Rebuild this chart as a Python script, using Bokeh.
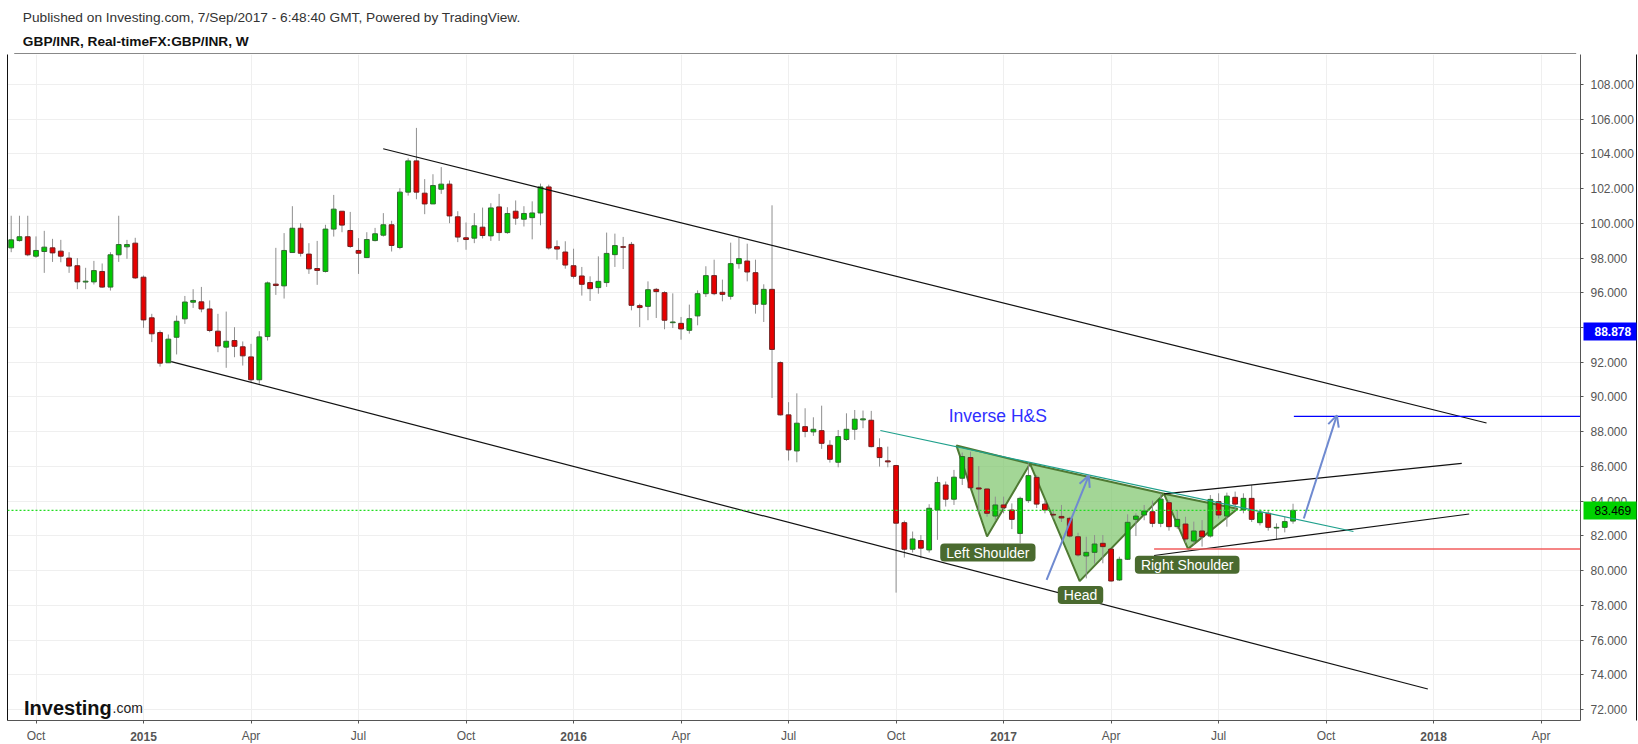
import numpy as np
import pandas as pd
from bokeh.plotting import figure
from bokeh.layouts import column
from bokeh.models import (FixedTicker, PrintfTickFormatter, Label, Span, LinearAxis,
                          Arrow, OpenHead, ColumnDataSource, Range1d)
from bokeh.core.properties import value
from bokeh.embed import file_html
from bokeh.resources import INLINE

FONT = "Liberation Sans"

# ---------------- data (weekly GBP/INR candles) ----------------
start_date = "2014-09-15"

opens = [
    98.59, 99.01, 99.23, 98.11, 98.38, 98.59, 98.40, 98.00, 97.56, 96.62,
    96.63, 97.23, 96.33, 98.19, 98.65, 98.86, 96.90, 94.56, 93.71, 91.97,
    93.44, 94.50, 95.46, 95.48, 95.07, 93.79, 92.87, 93.25, 92.89, 92.31,
    90.99, 93.48, 96.50, 96.40, 98.32, 99.72, 98.23, 97.40, 97.23, 99.67,
    100.70, 99.59, 98.44, 98.03, 99.01, 99.32, 99.92, 98.61, 101.80, 103.60,
    101.74, 101.12, 101.97, 102.26, 100.38, 99.17, 99.15, 99.78, 99.28, 100.95,
    99.47, 100.70, 100.24, 100.33, 100.60, 102.10, 98.66, 98.35, 97.56, 96.97,
    96.59, 96.30, 96.59, 98.20, 98.66, 98.79, 95.26, 95.22, 96.20, 96.01,
    94.28, 94.24, 93.84, 94.67, 95.95, 96.99, 96.03, 95.80, 97.68, 97.83,
    97.16, 95.34, 96.20, 91.98, 88.97, 86.89, 88.29, 87.99, 88.06, 87.22,
    86.24, 87.55, 88.14, 88.68, 88.66, 87.08, 86.32, 86.05, 82.76, 81.23,
    81.73, 81.19, 83.49, 84.93, 84.11, 85.32, 86.51, 84.76, 84.70, 83.14,
    83.78, 83.49, 82.14, 84.03, 85.37, 83.83, 83.24, 83.12, 83.01, 81.95,
    80.84, 81.05, 81.57, 81.24, 79.46, 80.65, 82.95, 83.20, 83.39, 82.72,
    83.91, 82.53, 82.68, 81.70, 82.28, 81.99, 83.97, 83.14, 84.22, 83.49,
    84.16, 82.76, 83.30, 82.45, 82.49, 82.85,
]
highs = [
    100.44, 100.44, 100.44, 99.25, 99.57, 99.11, 99.05, 98.34, 98.00, 97.44,
    97.84, 97.69, 98.34, 100.44, 99.05, 99.17, 97.00, 94.79, 93.83, 93.60,
    94.69, 95.82, 96.21, 96.34, 95.56, 94.79, 94.92, 94.02, 93.20, 93.06,
    93.79, 96.65, 98.59, 99.44, 100.99, 100.01, 98.86, 98.99, 99.92, 101.64,
    100.70, 100.66, 99.15, 99.49, 99.74, 100.59, 100.15, 102.03, 103.75, 105.50,
    102.55, 102.83, 103.24, 102.47, 100.70, 100.05, 100.59, 100.91, 101.16, 101.70,
    100.93, 101.32, 100.99, 101.27, 102.29, 102.23, 99.02, 98.97, 98.54, 97.49,
    96.95, 98.10, 99.47, 99.41, 99.22, 98.93, 95.37, 96.66, 96.28, 96.09,
    95.97, 94.61, 95.32, 96.14, 97.53, 97.91, 96.76, 98.89, 99.16, 98.83,
    97.91, 96.49, 101.04, 92.05, 89.70, 90.21, 89.35, 88.83, 89.50, 87.51,
    88.10, 89.06, 89.25, 89.22, 89.20, 87.62, 87.14, 86.09, 82.88, 82.25,
    82.05, 83.82, 85.41, 85.13, 85.80, 86.80, 86.85, 86.02, 84.72, 84.26,
    84.26, 83.87, 84.26, 86.18, 85.50, 84.06, 83.53, 83.78, 83.10, 82.18,
    81.95, 82.05, 82.05, 81.24, 80.80, 83.24, 83.30, 83.78, 84.03, 84.45,
    84.06, 83.49, 83.10, 82.82, 82.91, 84.35, 84.45, 84.49, 84.55, 84.45,
    84.93, 83.53, 83.49, 82.72, 83.10, 83.85,
]
lows = [
    98.34, 98.95, 98.11, 98.02, 97.15, 97.78, 97.76, 97.15, 96.21, 96.21,
    96.48, 96.29, 96.13, 97.78, 97.96, 96.80, 93.98, 93.16, 91.75, 91.97,
    92.45, 94.21, 95.13, 94.88, 93.73, 92.58, 91.68, 92.29, 91.81, 90.85,
    90.76, 93.25, 95.88, 95.67, 98.30, 98.09, 97.09, 96.46, 97.17, 99.24,
    99.49, 98.59, 97.09, 98.00, 98.96, 99.24, 98.38, 98.51, 101.60, 101.39,
    100.53, 101.12, 101.70, 100.01, 98.92, 98.48, 98.86, 99.13, 98.99, 98.99,
    99.40, 99.92, 99.82, 99.08, 99.89, 98.49, 97.91, 97.39, 96.82, 95.84,
    95.53, 95.95, 96.34, 97.49, 97.37, 94.99, 94.03, 94.42, 94.55, 93.90,
    93.97, 93.30, 93.65, 94.13, 95.76, 95.86, 95.51, 95.61, 97.39, 96.66,
    94.80, 94.32, 89.94, 88.93, 86.34, 86.24, 87.68, 87.76, 87.01, 86.22,
    85.95, 87.47, 87.53, 88.20, 87.10, 85.99, 85.95, 78.73, 80.75, 81.04,
    80.71, 81.04, 81.77, 83.69, 83.78, 84.93, 84.75, 83.33, 83.10, 82.90,
    83.30, 82.39, 81.57, 83.90, 83.60, 83.30, 83.00, 82.80, 81.90, 80.80,
    79.55, 80.40, 80.42, 79.36, 79.40, 80.61, 81.99, 82.90, 82.50, 82.50,
    82.30, 82.40, 81.60, 81.50, 81.38, 81.90, 83.00, 82.53, 83.50, 83.30,
    82.80, 82.60, 82.30, 81.80, 82.20, 82.70,
]
closes = [
    99.05, 99.23, 98.19, 98.44, 98.63, 98.30, 98.11, 97.54, 96.63, 96.67,
    97.28, 96.33, 98.19, 98.78, 98.78, 96.86, 94.44, 93.64, 91.95, 93.33,
    94.36, 95.47, 95.56, 95.07, 93.83, 92.94, 93.21, 92.92, 92.37, 90.99,
    93.46, 96.57, 96.42, 98.44, 99.72, 98.28, 97.38, 97.29, 99.67, 100.82,
    99.90, 98.67, 98.28, 99.07, 99.40, 99.92, 98.73, 101.80, 103.60, 101.80,
    101.12, 102.18, 102.26, 100.43, 99.21, 99.07, 99.86, 99.30, 100.89, 99.47,
    100.57, 100.30, 100.57, 100.60, 102.10, 98.58, 98.52, 97.60, 96.95, 96.49,
    96.24, 96.66, 98.27, 98.72, 98.62, 95.28, 95.15, 96.18, 96.07, 94.42,
    94.32, 93.92, 94.51, 95.95, 96.99, 95.95, 95.91, 97.68, 97.97, 97.20,
    95.34, 96.20, 92.74, 88.97, 86.95, 88.49, 88.01, 88.14, 87.33, 86.41,
    87.72, 88.14, 88.72, 88.74, 87.14, 86.51, 86.26, 82.73, 81.23, 81.82,
    81.29, 83.59, 85.07, 84.11, 85.38, 86.57, 84.77, 84.70, 83.30, 83.78,
    83.62, 82.95, 84.16, 85.47, 83.83, 83.49, 83.20, 83.03, 81.99, 80.90,
    81.05, 81.53, 81.38, 79.40, 80.65, 82.78, 83.14, 83.43, 82.72, 84.12,
    82.53, 82.95, 81.82, 82.28, 81.95, 84.10, 83.20, 84.29, 83.83, 84.16,
    82.95, 83.33, 82.49, 82.49, 82.82, 83.469,
]

tick_dates = ["2014-10-06", "2015-01-05", "2015-04-06", "2015-07-06", "2015-10-05",
              "2016-01-04", "2016-04-04", "2016-07-04", "2016-10-03", "2017-01-02",
              "2017-04-03", "2017-07-03", "2017-10-02", "2018-01-01", "2018-04-02"]
tick_labels = ["Oct", "2015", "Apr", "Jul", "Oct", "2016", "Apr", "Jul", "Oct", "2017",
               "Apr", "Jul", "Oct", "2018", "Apr"]
price_ticks = list(range(72, 110, 2))

title_line1 = "Published on Investing.com, 7/Sep/2017 - 6:48:40 GMT, Powered by TradingView."
title_line2 = "GBP/INR, Real-timeFX:GBP/INR, W"

last_price = 83.469
target_price = 88.878
target_badge_pos = 93.75
support_price = 81.25

# drawings (x in weeks since start_date, y in price)
upper_channel_x = [44.98, 178.4]
upper_channel_y = [104.30, 88.50]
lower_channel_x = [19.35, 171.3]
lower_channel_y = [92.04, 73.18]
neck_x = [105.1, 162.3]
neck_y = [88.07, 82.25]
rise_top_x = [139.4, 175.4]
rise_top_y = [84.42, 86.17]
rise_bot_x = [138.2, 176.3]
rise_bot_y = [80.87, 83.26]
hs_xs = [[114.3, 118.0, 123.2], [123.2, 129.2, 139.4], [139.4, 142.3, 148.3, 145.3]]
hs_ys = [[87.20, 81.96, 86.15], [86.15, 79.39, 84.42], [84.42, 81.25, 83.56, 83.85]]
arrow1 = (125.2, 79.47, 130.3, 85.47)
arrow2 = (156.3, 83.00, 160.3, 88.94)
target_start = 155.1
support_start = 138.2

# ---------------- derived ----------------
n = len(closes)
t0 = pd.Timestamp(start_date)
dates = pd.date_range(start_date, periods=n, freq="7D")
week = ((dates - t0).days / 7).to_numpy()
o = np.array(opens); h = np.array(highs); l = np.array(lows); c = np.array(closes)
up = c >= o
tick_pos = [int((pd.Timestamp(d) - t0).days // 7) for d in tick_dates]
year_pos = [pp for pp, lab in zip(tick_pos, tick_labels) if lab.isdigit()]

X0, X1 = -0.447, 189.76
Y0, Y1 = 71.364, 109.728

# ---------------- header with the two title lines ----------------
header = figure(width=1638, height=54, x_range=Range1d(0, 1638), y_range=Range1d(54, 0),
                x_axis_location=None, y_axis_location=None, toolbar_location=None,
                output_backend="svg", min_border=0)
header.outline_line_color = None
header.background_fill_color = "white"
header.border_fill_color = "white"
for g in header.grid:
    g.visible = False
header.text(x=[16], y=[17], text=[title_line1], text_font=value(FONT), text_font_size="13.7px",
            text_color="#333333", text_baseline="middle", text_align="left")
header.text(x=[16], y=[40.5], text=[title_line2], text_font=value(FONT), text_font_size="13.7px",
            text_font_style="bold", text_color="#111111", text_baseline="middle", text_align="left")
header.segment(x0=[7], y0=[53.5], x1=[1633.5], y1=[53.5], line_color="#111111", line_width=1)

# ---------------- main chart ----------------
p = figure(frame_width=1573, frame_height=666, output_backend="svg", toolbar_location=None,
           x_range=Range1d(X0, X1), y_range=Range1d(Y0, Y1), y_axis_location="right",
           title=None, min_border_left=7, min_border_right=58, min_border_top=0,
           min_border_bottom=23)
p.background_fill_color = "white"
p.border_fill_color = "white"
p.outline_line_color = None

xa = p.xaxis[0]
xa.ticker = FixedTicker(ticks=tick_pos)
xa.major_label_overrides = {pos: ("" if lab.isdigit() else lab) for pos, lab in zip(tick_pos, tick_labels)}
xa.axis_line_color = "#555555"
xa.major_tick_line_color = "#555555"
xa.major_tick_out = 3
xa.major_tick_in = 0
xa.minor_tick_line_color = None
xa.major_label_standoff = 5
xa.major_label_text_font = FONT
xa.major_label_text_font_size = "12px"
xa.major_label_text_color = "#555555"

ya = p.yaxis[0]
ya.ticker = FixedTicker(ticks=price_ticks)
ya.formatter = PrintfTickFormatter(format="%.3f")
ya.major_label_overrides = {94: ""}
ya.axis_line_color = "#555555"
ya.major_tick_line_color = "#555555"
ya.major_tick_out = 3
ya.major_tick_in = 0
ya.minor_tick_line_color = None
ya.major_label_standoff = 7
ya.major_label_text_font = FONT
ya.major_label_text_font_size = "12px"
ya.major_label_text_color = "#555555"

p.xgrid.grid_line_color = "#efefef"
p.ygrid.grid_line_color = "#efefef"

# outer box lines (left, right, bottom)
for side in ("left", "right", "below"):
    b = LinearAxis(ticker=FixedTicker(ticks=[]), axis_line_color="#111111",
                   major_tick_out=0, major_tick_in=0, minor_tick_out=0, minor_tick_in=0,
                   major_label_standoff=0, major_tick_line_color=None,
                   minor_tick_line_color=None)
    p.add_layout(b, side)

# bold year labels: axis stacked under the month axis, labels pulled back into the month row
year_axis = LinearAxis(ticker=FixedTicker(ticks=year_pos),
                       axis_line_color=None, major_tick_line_color=None,
                       minor_tick_line_color=None, major_tick_out=0, major_tick_in=0,
                       major_label_standoff=-14, major_label_text_font=FONT,
                       major_label_text_font_size="12px", major_label_text_font_style="bold",
                       major_label_text_color="#555555")
year_axis.major_label_overrides = {pos: lab for pos, lab in zip(tick_pos, tick_labels) if lab.isdigit()}
p.add_layout(year_axis, "below")


# price badges: ticks drawn inward over the price scale, labels pulled back onto them
def add_badge(pos, text, bg, fg, bold):
    ax = LinearAxis(ticker=FixedTicker(ticks=[pos]), axis_line_color=None,
                    major_tick_in=53, major_tick_out=0, major_tick_line_width=18,
                    major_tick_line_color=bg, minor_tick_line_color=None,
                    major_label_standoff=-42, major_label_text_font=FONT,
                    major_label_text_font_size="12px",
                    major_label_text_font_style=("bold" if bold else "normal"),
                    major_label_text_color=fg)
    ax.major_label_overrides = {pos: text}
    p.add_layout(ax, "right")


add_badge(target_badge_pos, f"{target_price:.3f}", "#0000ff", "white", True)
add_badge(last_price, f"{last_price:.3f}", "#00d200", "black", False)

# logo
p.text(x=[1.55], y=[72.06], text=["Investing"], text_font=value(FONT), text_font_style="bold",
       text_font_size="20px", text_color="#111111", text_baseline="alphabetic", text_align="left")
p.text(x=[12.25], y=[72.06], text=[".com"], text_font=value(FONT), text_font_style="normal",
       text_font_size="14px", text_color="#222222", text_baseline="alphabetic", text_align="left")

# H&S fill
p.patches(xs=hs_xs, ys=hs_ys, fill_color="#7cc46a", fill_alpha=0.7,
          line_color="#4f7a33", line_width=2)

# candles
src_up = ColumnDataSource(dict(x=week[up], top=c[up], bottom=o[up], h=h[up], l=l[up]))
src_dn = ColumnDataSource(dict(x=week[~up], top=o[~up], bottom=c[~up], h=h[~up], l=l[~up]))
for src in (src_up, src_dn):
    p.segment(x0="x", y0="h", x1="x", y1="l", source=src, line_color="#8f8f8f", line_width=1)
p.vbar(x="x", width=0.58, top="top", bottom="bottom", source=src_up,
       fill_color="#00c800", line_color="#2f6b2f", line_width=1)
p.vbar(x="x", width=0.58, top="top", bottom="bottom", source=src_dn,
       fill_color="#e60000", line_color="#6e2020", line_width=1)

# drawings
p.line(upper_channel_x, upper_channel_y, line_color="#111111", line_width=1.2)
p.line(lower_channel_x, lower_channel_y, line_color="#111111", line_width=1.2)
p.line(rise_top_x, rise_top_y, line_color="#111111", line_width=1.2)
p.line(rise_bot_x, rise_bot_y, line_color="#111111", line_width=1.2)
p.line(neck_x, neck_y, line_color="#1fa08c", line_width=1.2)
p.segment(x0=[target_start], y0=[target_price], x1=[X1], y1=[target_price],
          line_color="#0000ff", line_width=1.2)
p.segment(x0=[support_start], y0=[support_price], x1=[X1], y1=[support_price],
          line_color="#f25c5c", line_width=1.5)
p.add_layout(Span(location=last_price, dimension="width", line_color="#22dd22",
                  line_dash="2 2", line_width=1.2))

for (xs_, ys_, xe_, ye_) in (arrow1, arrow2):
    p.add_layout(Arrow(end=OpenHead(size=11, line_color="#6f8ad0", line_width=2),
                       x_start=xs_, y_start=ys_, x_end=xe_, y_end=ye_,
                       line_color="#6f8ad0", line_width=2))

# pattern labels
for txt, xx, yy in (("Left Shoulder", 118.1, 81.04), ("Head", 129.3, 78.59),
                    ("Right Shoulder", 142.2, 80.34)):
    p.add_layout(Label(x=xx, y=yy, text=txt, text_align="center", text_baseline="middle",
                       text_font=FONT, text_font_size="14px", text_color="white",
                       background_fill_color="#4a6a2f", border_radius=4,
                       padding=dict(left=6, right=6, top=1, bottom=1)))
p.add_layout(Label(x=119.3, y=88.90, text="Inverse H&S", text_align="center",
                   text_baseline="middle", text_font=FONT, text_font_size="17.5px",
                   text_color="#2f2fff"))

page = column(header, p, spacing=0)
open("out.html", "w").write(file_html(page, INLINE))
